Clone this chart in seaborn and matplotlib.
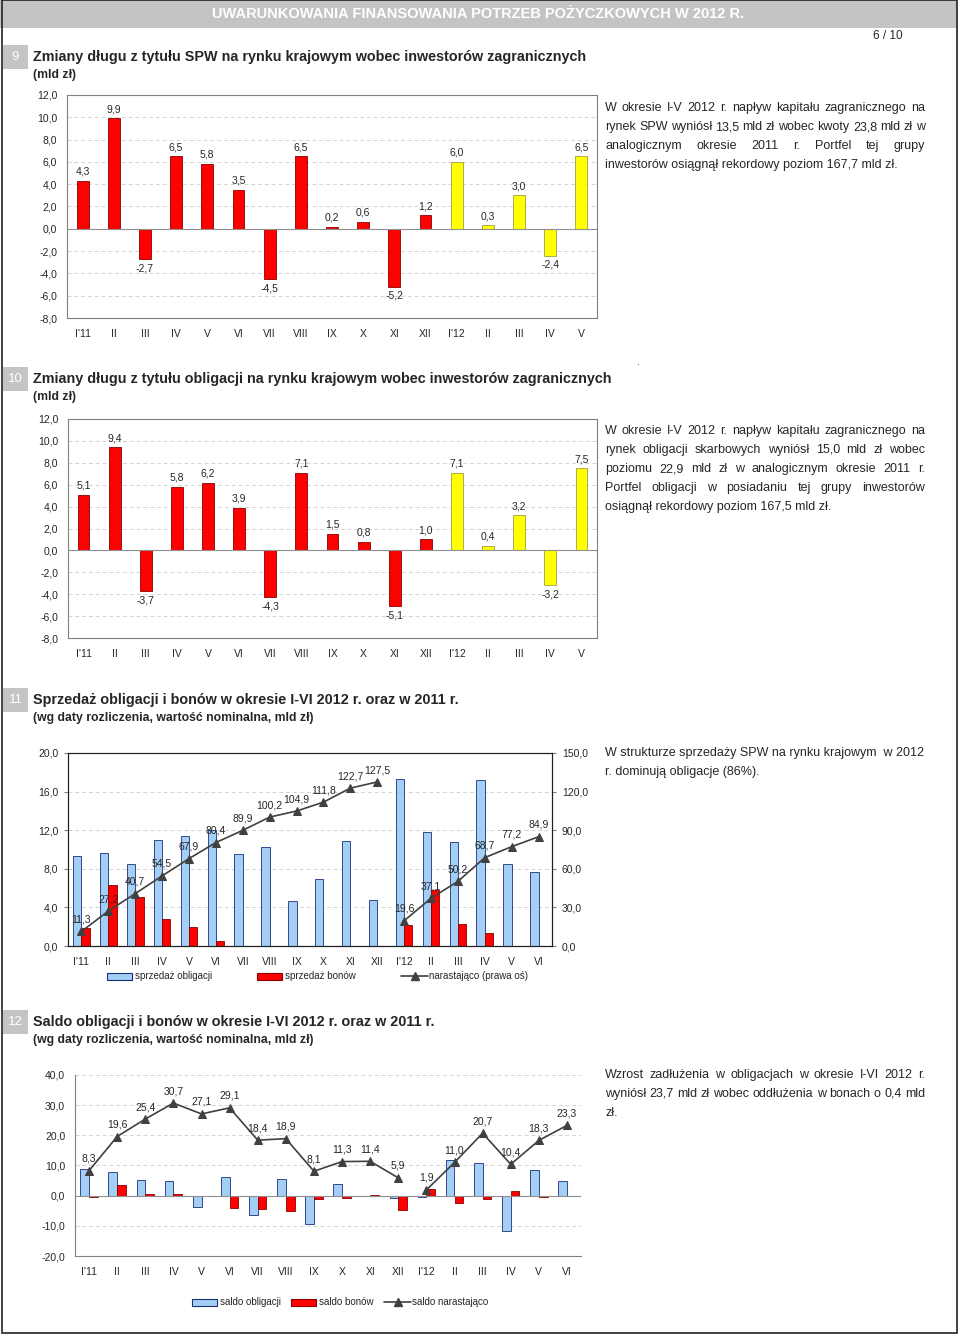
import matplotlib
matplotlib.use('Agg')
import matplotlib.pyplot as plt
from matplotlib.patches import Rectangle
from matplotlib.lines import Line2D
from matplotlib.ticker import FuncFormatter, MultipleLocator
import pandas as pd
import seaborn as sns

# dane
miesiace_9 = ["I'11", "II", "III", "IV", "V", "VI", "VII", "VIII", "IX", "X", "XI", "XII",
              "I'12", "II", "III", "IV", "V"]
rok_9 = ['2011'] * 12 + ['2012'] * 5
spw_zagr = [4.3, 9.9, -2.7, 6.5, 5.8, 3.5, -4.5, 6.5, 0.2, 0.6, -5.2, 1.2, 6.0, 0.3, 3.0, -2.4, 6.5]
obl_zagr = [5.1, 9.4, -3.7, 5.8, 6.2, 3.9, -4.3, 7.1, 1.5, 0.8, -5.1, 1.0, 7.1, 0.4, 3.2, -3.2, 7.5]

miesiace_11 = miesiace_9 + ["VI"]
rok_11 = ['2011'] * 12 + ['2012'] * 6
sprzedaz_obl = [9.3, 9.6, 8.5, 11.0, 11.4, 12.0, 9.5, 10.3, 4.7, 6.9, 10.9, 4.8, 17.3, 11.8, 10.8, 17.2, 8.5, 7.7]
sprzedaz_bon = [1.9, 6.3, 5.1, 2.8, 2.0, 0.5, 0, 0, 0, 0, 0, 0, 2.2, 5.8, 2.3, 1.3, 0, 0]
sprzedaz_nar = [11.3, 27.2, 40.7, 54.5, 67.9, 80.4, 89.9, 100.2, 104.9, 111.8, 122.7, 127.5,
                19.6, 37.1, 50.2, 68.7, 77.2, 84.9]

saldo_obl = [8.7, 7.7, 5.3, 5.0, -3.6, 6.2, -6.3, 5.5, -9.5, 4.0, 0.0, -0.9, -0.3, 11.7, 10.7, -11.6, 8.4, 5.0]
saldo_bon = [-0.4, 3.7, 0.5, 0.4, 0.0, -4.1, -4.4, -5.0, -1.2, -0.9, 0.2, -4.7, 2.2, -2.4, -1.0, 1.4, -0.6, 0.0]
saldo_nar = [8.3, 19.6, 25.4, 30.7, 27.1, 29.1, 18.4, 18.9, 8.1, 11.3, 11.4, 5.9,
             1.9, 11.0, 20.7, 10.4, 18.3, 23.3]

W, H = 960, 1336
CZERWONY = '#ff0000'
ZOLTY = '#ffff00'
NIEBIESKI = '#a3cff5'
LINIA = '#404040'
TEKST = 9.0

sns.set_style('white')
plt.rcParams['font.family'] = ['Liberation Sans', 'DejaVu Sans']

fig = plt.figure(figsize=(W / 100, H / 100), dpi=100)
renderer = fig.canvas.get_renderer()


def fx(x):
    return x / W


def fy(y):
    return 1 - y / H


def prostokat(l, r, t, b):
    return [l / W, 1 - b / H, (r - l) / W, (b - t) / H]


def pl(v, p=None):
    return f'{v:.1f}'.replace('.', ',')


def tekst_wyjustowany(x0, x1, y, linia, wyjustuj=True, size=TEKST):
    slowa = linia.split()
    if not wyjustuj or len(slowa) == 1:
        fig.text(fx(x0), fy(y), linia, fontsize=size, va='center', ha='left')
        return
    teksty = [fig.text(0, fy(y), s, fontsize=size, va='center', ha='left') for s in slowa]
    szer = [t.get_window_extent(renderer).width for t in teksty]
    odstep = (x1 - x0 - sum(szer)) / (len(slowa) - 1)
    x = x0
    for t, s in zip(teksty, szer):
        t.set_x(fx(x))
        x += s + odstep


def naglowek_sekcji(nr, y, tytul, podtytul):
    fig.patches.append(Rectangle((fx(3), fy(y + 12)), 25 / W, 24 / H, transform=fig.transFigure,
                                 facecolor='#c4c4c4', edgecolor='none'))
    fig.text(fx(15.5), fy(y), nr, color='white', fontsize=9.5, ha='center', va='center')
    fig.text(fx(33), fy(y), tytul, fontsize=10.4, fontweight='bold', va='center')
    fig.text(fx(33), fy(y + 18), podtytul, fontsize=8.8, fontweight='bold', va='center')


def styl_osi(ax, kolor_ramki='#808080'):
    ax.set_xlabel('')
    ax.set_ylabel('')
    ax.yaxis.set_major_formatter(FuncFormatter(pl))
    ax.tick_params(axis='both', labelsize=7.5, length=3, color='#808080', pad=4)
    ax.tick_params(axis='x', length=0, pad=8)
    ax.yaxis.grid(True, ls=(0, (4, 3)), color='#d4d4d4', lw=0.7)
    ax.set_axisbelow(True)
    for s in ax.spines.values():
        s.set_color(kolor_ramki)
        s.set_linewidth(0.8)


def wykres_zmian(ax, wartosci):
    df = pd.DataFrame({'poz': range(len(wartosci)), 'wartosc': wartosci, 'rok': rok_9})
    sns.barplot(data=df, x='poz', y='wartosc', hue='rok', dodge=False, width=0.38, saturation=1,
                palette={'2011': CZERWONY, '2012': ZOLTY}, legend=False, ax=ax, linewidth=0.6)
    for p in ax.patches:
        fc = p.get_facecolor()
        p.set_edgecolor('#8a0000' if fc[1] < 0.5 else '#a0a040')
    for i, v in enumerate(wartosci):
        ax.annotate(pl(v), (i, v), xytext=(0, 3 if v >= 0 else -3), textcoords='offset points',
                    ha='center', va='bottom' if v >= 0 else 'top', fontsize=7.5)
    ax.set_ylim(-8, 12)
    ax.yaxis.set_major_locator(MultipleLocator(2))
    ax.set_xlim(-0.5, len(wartosci) - 0.5)
    ax.set_xticks(range(len(wartosci)))
    ax.set_xticklabels(miesiace_9)
    styl_osi(ax)
    ax.axhline(0, color='#909090', lw=0.8)


# naglowek strony
fig.patches.append(Rectangle((0, fy(28)), 957 / W, 28 / H, transform=fig.transFigure,
                             facecolor='#c4c4c4', edgecolor='none'))
fig.text(fx(478), fy(14), 'UWARUNKOWANIA FINANSOWANIA POTRZEB POŻYCZKOWYCH W 2012 R.',
         color='white', fontsize=10.5, fontweight='bold', ha='center', va='center')
fig.patches.append(Rectangle((fx(1.5), fy(1333)), 955.5 / W, 1333 / H, transform=fig.transFigure,
                             facecolor='none', edgecolor='#222222', lw=1.2))
fig.text(fx(888), fy(36), '6 / 10', fontsize=8.5, ha='center', va='center')
fig.text(fx(637), fy(362), '.', fontsize=7, ha='center', va='center')

# 9
naglowek_sekcji('9', 57, 'Zmiany długu z tytułu SPW na rynku krajowym wobec inwestorów zagranicznych', '(mld zł)')
ax9 = fig.add_axes(prostokat(67, 597, 95, 318))
wykres_zmian(ax9, spw_zagr)
linie9 = ['W okresie I-V 2012 r. napływ kapitału zagranicznego na',
          'rynek SPW wyniósł 13,5 mld zł wobec kwoty 23,8 mld zł w',
          'analogicznym okresie 2011 r. Portfel tej grupy',
          'inwestorów osiągnął rekordowy poziom 167,7 mld zł.']
for k, linia in enumerate(linie9):
    tekst_wyjustowany(605, 925, 108 + 19 * k, linia, wyjustuj=k < len(linie9) - 1)

# 10
naglowek_sekcji('10', 379, 'Zmiany długu z tytułu obligacji na rynku krajowym wobec inwestorów zagranicznych', '(mld zł)')
ax10 = fig.add_axes(prostokat(68, 597, 419, 638))
wykres_zmian(ax10, obl_zagr)
linie10 = ['W okresie I-V 2012 r. napływ kapitału zagranicznego na',
           'rynek obligacji skarbowych wyniósł 15,0 mld zł wobec',
           'poziomu 22,9 mld zł w analogicznym okresie 2011 r.',
           'Portfel obligacji w posiadaniu tej grupy inwestorów',
           'osiągnął rekordowy poziom 167,5 mld zł.']
for k, linia in enumerate(linie10):
    tekst_wyjustowany(605, 925, 431 + 19 * k, linia, wyjustuj=k < len(linie10) - 1)

# 11
naglowek_sekcji('11', 700, 'Sprzedaż obligacji i bonów w okresie I-VI 2012 r. oraz w 2011 r.',
                '(wg daty rozliczenia, wartość nominalna, mld zł)')
ax11 = fig.add_axes(prostokat(68, 552, 753, 946))
n = len(miesiace_11)
df11 = pd.DataFrame({'poz': list(range(n)) * 2,
                     'wartosc': sprzedaz_obl + sprzedaz_bon,
                     'typ': ['sprzedaż obligacji'] * n + ['sprzedaż bonów'] * n})
sns.barplot(data=df11, x='poz', y='wartosc', hue='typ', width=0.62, saturation=1,
            palette={'sprzedaż obligacji': NIEBIESKI, 'sprzedaż bonów': CZERWONY},
            legend=False, ax=ax11, linewidth=0.6)
for p in ax11.patches:
    p.set_edgecolor('#8a0000' if p.get_facecolor()[2] < 0.5 else '#1c2f7a')
ax11.set_ylim(0, 20)
ax11.yaxis.set_major_locator(MultipleLocator(4))
ax11.set_xlim(-0.5, n - 0.5)
ax11.set_xticks(range(n))
ax11.set_xticklabels(miesiace_11)
styl_osi(ax11, '#202020')
tw11 = ax11.twinx()
df11l = pd.DataFrame({'poz': range(n), 'nar': sprzedaz_nar, 'rok': rok_11})
for r, czesc in df11l.groupby('rok'):
    sns.lineplot(data=czesc, x='poz', y='nar', marker='^', color=LINIA, lw=1.2,
                 markersize=6, markeredgecolor=LINIA, ax=tw11)
for i, v in enumerate(sprzedaz_nar):
    tw11.annotate(pl(v), (i, v), xytext=(0, 5), textcoords='offset points',
                  ha='center', va='bottom', fontsize=7.5)
tw11.set_ylim(0, 150)
tw11.yaxis.set_major_locator(MultipleLocator(30))
tw11.yaxis.set_major_formatter(FuncFormatter(pl))
tw11.set_ylabel('')
tw11.set_xlabel('')
tw11.tick_params(axis='y', labelsize=7.5, length=3, color='#808080', pad=4)
for s in tw11.spines.values():
    s.set_color('#202020')
    s.set_linewidth(0.8)
tw11.set_xlim(-0.5, n - 0.5)


def legenda(elementy, y):
    for x, rodzaj, kolor, kraw, opis in elementy:
        if rodzaj == 'bar':
            fig.patches.append(Rectangle((fx(x), fy(y + 3.5)), 25 / W, 7 / H, transform=fig.transFigure,
                                         facecolor=kolor, edgecolor=kraw, lw=0.8))
        else:
            fig.lines.append(Line2D([fx(x), fx(x + 27)], [fy(y), fy(y)], transform=fig.transFigure,
                                    color=kolor, lw=1.2))
            fig.lines.append(Line2D([fx(x + 13.5)], [fy(y)], transform=fig.transFigure,
                                    color=kolor, marker='^', markersize=6, lw=0))
        fig.text(fx(x + 28), fy(y), opis, fontsize=7, va='center', ha='left')


legenda([(107, 'bar', NIEBIESKI, '#1c2f7a', 'sprzedaż obligacji'),
         (257, 'bar', CZERWONY, '#8a0000', 'sprzedaż bonów'),
         (401, 'line', LINIA, LINIA, 'narastająco (prawa oś)')], 976)
linie11 = ['W strukturze sprzedaży SPW na rynku krajowym  w 2012', 'r. dominują obligacje (86%).']
for k, linia in enumerate(linie11):
    fig.text(fx(605), fy(753 + 19 * k), linia, fontsize=TEKST, va='center', ha='left')

# 12
naglowek_sekcji('12', 1022, 'Saldo obligacji i bonów w okresie I-VI 2012 r. oraz w 2011 r.',
                '(wg daty rozliczenia, wartość nominalna, mld zł)')
ax12 = fig.add_axes(prostokat(75, 581, 1075, 1256))
df12 = pd.DataFrame({'poz': list(range(n)) * 2,
                     'wartosc': saldo_obl + saldo_bon,
                     'typ': ['saldo obligacji'] * n + ['saldo bonów'] * n})
sns.barplot(data=df12, x='poz', y='wartosc', hue='typ', width=0.62, saturation=1,
            palette={'saldo obligacji': NIEBIESKI, 'saldo bonów': CZERWONY},
            legend=False, ax=ax12, linewidth=0.6)
for p in ax12.patches:
    p.set_edgecolor('#8a0000' if p.get_facecolor()[2] < 0.5 else '#1c2f7a')
df12l = pd.DataFrame({'poz': range(n), 'nar': saldo_nar, 'rok': rok_11})
for r, czesc in df12l.groupby('rok'):
    sns.lineplot(data=czesc, x='poz', y='nar', marker='^', color=LINIA, lw=1.2,
                 markersize=6, markeredgecolor=LINIA, ax=ax12)
for i, v in enumerate(saldo_nar):
    ax12.annotate(pl(v), (i, v), xytext=(0, 5), textcoords='offset points',
                  ha='center', va='bottom', fontsize=7.5)
ax12.set_ylim(-20, 40)
ax12.yaxis.set_major_locator(MultipleLocator(10))
ax12.set_xlim(-0.5, n - 0.5)
ax12.set_xticks(range(n))
ax12.set_xticklabels(miesiace_11)
styl_osi(ax12)
ax12.spines['top'].set_visible(False)
ax12.spines['right'].set_visible(False)
ax12.axhline(0, color='#909090', lw=0.8)

legenda([(192, 'bar', NIEBIESKI, '#1c2f7a', 'saldo obligacji'),
         (291, 'bar', CZERWONY, '#8a0000', 'saldo bonów'),
         (384, 'line', LINIA, LINIA, 'saldo narastająco')], 1302)
linie12 = ['Wzrost zadłużenia w obligacjach w okresie I-VI 2012 r.',
           'wyniósł 23,7 mld zł wobec oddłużenia w bonach o 0,4 mld',
           'zł.']
for k, linia in enumerate(linie12):
    tekst_wyjustowany(605, 925, 1075 + 19 * k, linia, wyjustuj=k < len(linie12) - 1)

fig.savefig('out.png', dpi=100)
